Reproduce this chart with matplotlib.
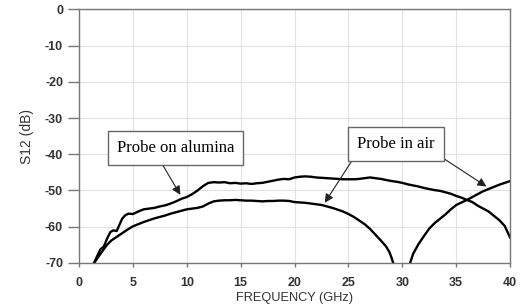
import matplotlib
matplotlib.use("Agg")
import matplotlib.pyplot as plt

plt.rcParams["axes.unicode_minus"] = False
plt.rcParams["font.family"] = ["Liberation Sans", "DejaVu Sans"]

# Probe on alumina (upper curve)
freq_alumina = [1.4, 1.7, 2.0, 2.3, 2.6, 2.9, 3.2, 3.5, 3.7, 4.0, 4.3, 4.6, 5.0, 5.5, 6.0, 6.5,
                7.0, 7.5, 8.0, 8.5, 9.0, 9.5, 10.0, 10.5, 11.0, 11.5, 12.0, 12.5, 13.0, 13.5,
                14.0, 14.5, 15.0, 15.5, 16.0, 16.5, 17.0, 17.5, 18.0, 18.5, 19.0, 19.5, 20.0,
                20.5, 21.0, 21.5, 22.0, 22.5, 23.0, 23.5, 24.0, 24.5, 25.0, 25.5, 26.0, 26.5,
                27.0, 27.5, 28.0, 28.5, 29.0, 29.5, 30.0, 30.5, 31.0, 31.5, 32.0, 32.5, 33.0,
                33.5, 34.0, 34.5, 35.0, 35.5, 36.0, 36.5, 37.0, 37.5, 38.0, 38.5, 39.0, 39.5, 40.0]
s12_alumina = [-70, -68, -66.2, -65.5, -63.3, -61.5, -61.0, -61.2, -59.8, -57.8, -56.8, -56.4,
               -56.5, -55.8, -55.2, -55.0, -54.8, -54.4, -54.1, -53.6, -53.0, -52.3, -51.8,
               -51.0, -50.0, -48.8, -47.9, -47.7, -47.8, -47.7, -48.0, -47.9, -48.1, -48.0,
               -48.2, -48.0, -47.9, -47.6, -47.3, -47.0, -46.8, -46.9, -46.4, -46.2, -46.1,
               -46.2, -46.4, -46.5, -46.6, -46.7, -46.8, -46.9, -46.9, -46.9, -46.8, -46.6,
               -46.4, -46.6, -46.8, -47.1, -47.4, -47.6, -47.9, -48.3, -48.6, -48.9, -49.3,
               -49.6, -49.9, -50.1, -50.5, -50.9, -51.5, -52.0, -52.6, -53.2, -54.2, -55.0,
               -55.8, -57.0, -58.2, -59.8, -63.0]

# Probe in air (lower curve with null near 30 GHz)
freq_air = [1.4, 1.8, 2.2, 2.6, 3.0, 3.5, 4.0, 4.5, 5.0, 5.5, 6.0, 6.5, 7.0, 7.5, 8.0, 8.5, 9.0,
            9.5, 10.0, 10.5, 11.0, 11.5, 12.0, 12.5, 13.0, 13.5, 14.0, 14.5, 15.0, 15.5, 16.0,
            16.5, 17.0, 17.5, 18.0, 18.5, 19.0, 19.5, 20.0, 20.5, 21.0, 21.5, 22.0, 22.5, 23.0,
            23.5, 24.0, 24.5, 25.0, 25.5, 26.0, 26.5, 27.0, 27.5, 28.0, 28.5, 28.8, 29.0, 29.2,
            29.5, 30.0, 30.4, 30.7, 31.0, 31.5, 32.0, 32.5, 33.0, 33.5, 34.0, 34.5, 35.0, 35.5,
            36.0, 36.5, 37.0, 37.5, 38.0, 38.5, 39.0, 39.5, 40.0]
s12_air = [-70, -68.3, -66.6, -65.0, -63.8, -62.8, -61.8, -60.8, -59.9, -59.3, -58.7, -58.2,
           -57.7, -57.3, -56.9, -56.4, -56.0, -55.6, -55.2, -55.0, -54.8, -54.4, -53.6, -53.0,
           -52.8, -52.7, -52.7, -52.6, -52.7, -52.8, -52.8, -52.9, -53.0, -52.9, -52.9, -52.8,
           -52.8, -52.9, -53.2, -53.3, -53.4, -53.6, -53.8, -54.0, -54.4, -54.8, -55.3, -55.8,
           -56.5, -57.3, -58.3, -59.3, -60.6, -62.2, -63.8, -65.5, -67.0, -68.6, -70.5, -74,
           -80, -74, -70.2, -67.5, -64.8, -62.6, -60.5, -59.0, -57.8, -56.6, -55.2, -54.0,
           -53.3, -52.6, -51.8, -51.0, -50.2, -49.6, -49.0, -48.4, -47.9, -47.4]

x_ticks = [0, 5, 10, 15, 20, 25, 30, 35, 40]
y_ticks = [0, -10, -20, -30, -40, -50, -60, -70]

fig = plt.figure(figsize=(5.2, 3.05), dpi=100)
ax = fig.add_axes([0.152, 0.138, 0.829, 0.831])

ax.plot(freq_alumina, s12_alumina, color="black", lw=1.7)
ax.plot(freq_air, s12_air, color="black", lw=1.7)

ax.set_xlim(0, 40)
ax.set_ylim(-70, 0)
ax.set_xticks(x_ticks)
ax.set_yticks(y_ticks)
ax.grid(True, color="#e2e2e2", lw=0.8)
ax.set_axisbelow(True)
for s in ax.spines.values():
    s.set_color("#777777")
    s.set_linewidth(1.0)
ax.tick_params(axis="y", length=8, width=1, color="#777777", pad=3.5)
ax.tick_params(axis="x", length=3, width=1, color="#777777", pad=7)
for lab in ax.get_xticklabels() + ax.get_yticklabels():
    lab.set_fontweight("bold")
    lab.set_fontsize(9)
    lab.set_color("#333333")

ax.set_xlabel("FREQUENCY (GHz)", fontsize=9.2, color="#333333", labelpad=2.5)
ax.set_ylabel("S12 (dB)", fontsize=10, color="#333333", labelpad=8)

box = dict(boxstyle="square,pad=0.55", fc="white", ec="#666666", lw=1.0)
ax.text(8.95, -38.3, "Probe on alumina", family="Liberation Serif", fontsize=12,
        ha="center", va="center", bbox=box, zorder=5)
ax.text(29.4, -37.2, "Probe in air", family="Liberation Serif", fontsize=12,
        ha="center", va="center", bbox=box, zorder=5)

ap = dict(arrowstyle="-|>", color="#222222", lw=0.8, mutation_scale=13, shrinkA=0, shrinkB=0)
ax.annotate("", xy=(9.4, -51.2), xytext=(7.67, -42.5), arrowprops=ap)
ax.annotate("", xy=(22.8, -53.4), xytext=(25.4, -41.4), arrowprops=ap)
ax.annotate("", xy=(37.8, -48.9), xytext=(33.95, -41.4), arrowprops=ap)

fig.savefig("out.png", dpi=100)
